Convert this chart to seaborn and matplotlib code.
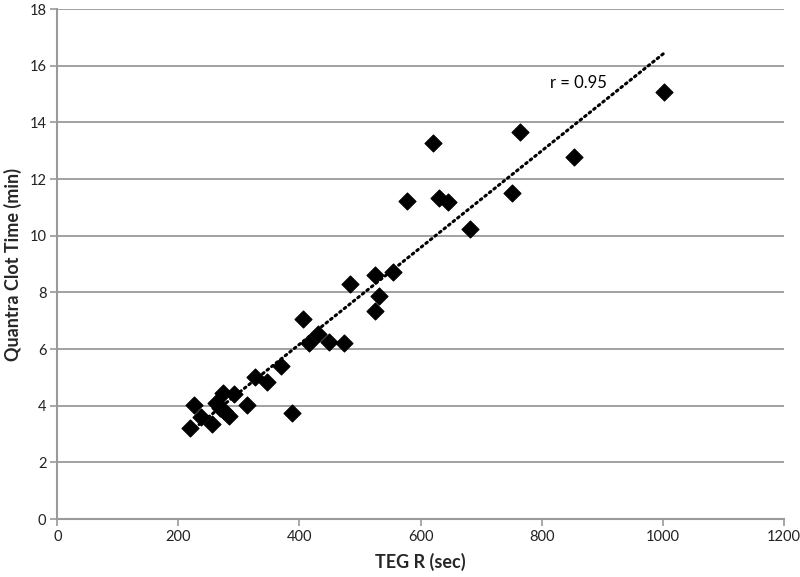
import matplotlib
matplotlib.use("Agg")
import matplotlib.pyplot as plt
import seaborn as sns
import numpy as np
import pandas as pd

teg_r = [219, 226, 238, 256, 262, 268, 273, 276, 283, 292, 314, 327, 347, 370, 387,
         405, 416, 430, 449, 473, 484, 525, 525, 531, 554, 578, 620, 630, 646, 681,
         751, 765, 853, 1003]
quantra = [3.2, 4.02, 3.59, 3.34, 4.08, 3.92, 4.44, 3.8, 3.65, 4.41, 4.02, 5.0, 4.82, 5.4, 3.75,
           7.05, 6.2, 6.53, 6.24, 6.2, 8.3, 8.6, 7.34, 7.87, 8.73, 11.22, 13.26, 11.34, 11.18, 10.24,
           11.5, 13.67, 12.77, 15.06]
x_ticks = [0, 200, 400, 600, 800, 1000, 1200]
y_ticks = [0, 2, 4, 6, 8, 10, 12, 14, 16, 18]
annotation = "r = 0.95"

df = pd.DataFrame({"TEG R (sec)": teg_r, "Quantra Clot Time (min)": quantra})

sns.set_theme(style="white")
plt.rcParams["font.family"] = ["Lato", "DejaVu Sans"]

fig = plt.figure(figsize=(8, 5.77), dpi=100)
ax = fig.add_axes([0.0718, 0.1005, 0.9077, 0.8839])

grid_col = "#9a9a9a"
ax.set_xlim(0, 1200)
ax.set_ylim(0, 18)
ax.set_xticks(x_ticks)
ax.set_yticks(y_ticks)
ax.yaxis.grid(True, color=grid_col, linewidth=1.3)
ax.set_axisbelow(True)

sns.regplot(data=df, x="TEG R (sec)", y="Quantra Clot Time (min)", ax=ax,
            scatter=False, ci=None, truncate=True,
            line_kws=dict(color="black", linewidth=2.2, linestyle=(0, (0.6, 1.3)),
                          dash_capstyle="round", zorder=2))
sns.scatterplot(data=df, x="TEG R (sec)", y="Quantra Clot Time (min)", ax=ax,
                marker="D", s=75, color="black", edgecolor="black", linewidth=0.8,
                zorder=3)

ax.text(814, 15.4, annotation, fontsize=12, va="center", ha="left", color="black")

for side in ["top", "right"]:
    ax.spines[side].set_visible(False)
for side in ["left", "bottom"]:
    ax.spines[side].set_color(grid_col)
    ax.spines[side].set_linewidth(1.5)

ax.tick_params(axis="both", which="major", direction="out", length=5, width=1.2,
               color=grid_col, labelsize=10.5, labelcolor="#222222",
               left=True, bottom=True, pad=3)
ax.set_xlabel("TEG R (sec)", fontsize=13, fontweight="bold", labelpad=6)
ax.set_ylabel("Quantra Clot Time (min)", fontsize=13, fontweight="bold", labelpad=5)

fig.savefig("out.png", dpi=100, facecolor="white")
